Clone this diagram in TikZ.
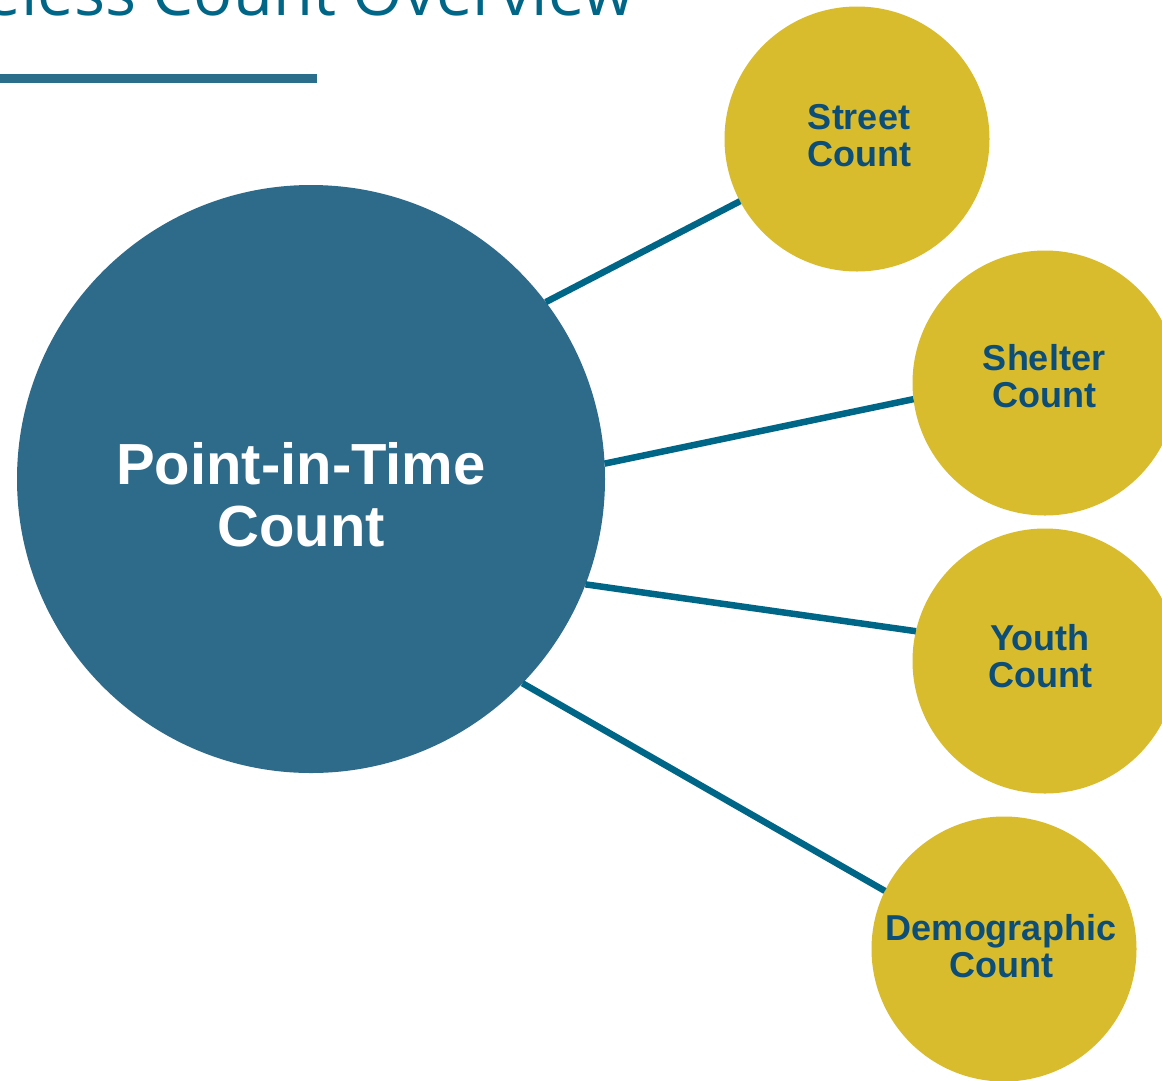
\documentclass[tikz,border=0pt]{standalone}
\usepackage{fontspec}
\setmainfont{Liberation Sans}
\newfontfamily\titlefont{Open Sans}
\definecolor{bigblue}{RGB}{46,107,138}
\definecolor{gold}{RGB}{217,188,46}
\definecolor{darktext}{RGB}{12,78,120}
\definecolor{linkblue}{RGB}{0,102,136}
\definecolor{barblue}{RGB}{42,110,140}
\begin{document}
\begin{tikzpicture}[x=1pt,y=-1pt,
  bigc/.style={circle,fill=bigblue,minimum size=588pt,inner sep=0pt,outer sep=0pt},
  smallc/.style={circle,fill=gold,minimum size=265pt,inner sep=0pt,outer sep=0pt},
  smalltext/.style={text=darktext,font=\fontsize{36}{37}\selectfont\bfseries,align=center,inner sep=0pt},
  bigtext/.style={text=white,font=\fontsize{58}{62}\selectfont\bfseries,align=center,inner sep=0pt},
  link/.style={draw=linkblue,line width=6.5pt}]
\useasboundingbox (0,0) rectangle (1162,1080);
\fill[white] (0,0) rectangle (1162,1080);
% title
\node[anchor=base east,inner sep=0pt,text=linkblue,font=\titlefont\fontsize{65}{65}\selectfont] (title) at (634,15) {Homeless Count Overview};
\fill[barblue] (0,74) rectangle (317,83);
% circles
\node[bigc] (pit) at (311,479) {};
\node[smallc] (street) at (857,139) {};
\node[smallc] (shelter) at (1045,383) {};
\node[smallc] (youth) at (1045,661) {};
\node[smallc] (demo) at (1004,949) {};
% labels
\node[bigtext] (pitlbl) at (301,495) {Point-in-Time\\Count};
\node[smalltext] (streetlbl) at (859,135.5) {Street\\Count};
\node[smalltext] (shelterlbl) at (1044,376.5) {Shelter\\Count};
\node[smalltext] (youthlbl) at (1040,656.5) {Youth\\Count};
\node[smalltext] (demolbl) at (1001,946.5) {Demographic\\Count};
% connectors
\draw[link] (pit.37.5) -- (street.208.8);
\draw[link] (pit.3.7) -- (shelter.187.3);
\draw[link] (pit.-21.7) -- (youth.167.7);
\draw[link] (pit.-44.6) -- (demo.154);
\end{tikzpicture}
\end{document}
